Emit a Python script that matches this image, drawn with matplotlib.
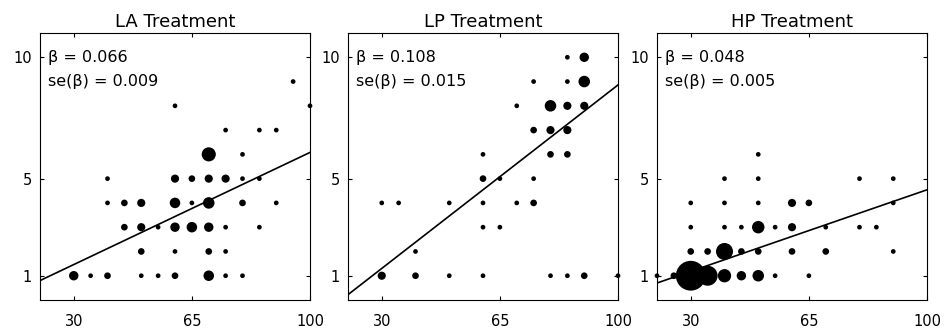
import numpy as np
import matplotlib
matplotlib.use("Agg")
import matplotlib.pyplot as plt

plt.rcParams['font.family'] = ['DejaVu Sans']

titles = ["LA Treatment", "LP Treatment", "HP Treatment"]
betas = ["0.066", "0.108", "0.048"]
ses = ["0.009", "0.015", "0.005"]
slopes = [0.066, 0.108, 0.048]
intercepts = [-0.52, -1.94, -0.26]

# LA: x, y, count
la_x = [95, 60, 100, 75, 85, 90, 70, 80,
        40, 60, 65, 70, 75, 80, 85,
        40, 45, 50, 60, 65, 70, 80, 90,
        45, 50, 55, 60, 65, 70, 75, 85,
        50, 60, 70, 75,
        30, 35, 40, 50, 55, 60, 70, 75, 80]
la_y = [9, 8, 8, 7, 7, 7, 6, 6,
        5, 5, 5, 5, 5, 5, 5,
        4, 4, 4, 4, 4, 4, 4, 4,
        3, 3, 3, 3, 3, 3, 3, 3,
        2, 2, 2, 2,
        1, 1, 1, 1, 1, 1, 1, 1, 1]
la_n = [1, 1, 1, 1, 1, 1, 9, 1,
        1, 3, 2, 3, 3, 1, 1,
        1, 2, 3, 5, 1, 6, 2, 1,
        2, 3, 1, 4, 5, 4, 1, 1,
        2, 1, 2, 1,
        4, 1, 2, 1, 1, 2, 5, 1, 1]

# LP
lp_x = [85, 90,
        75, 85, 90,
        70, 80, 85, 90,
        75, 80, 85,
        60, 80, 85,
        60, 65, 75,
        30, 35, 50, 60, 70, 75,
        60, 65,
        40,
        30, 40, 50, 60, 80, 85, 90, 100]
lp_y = [10, 10,
        9, 9, 9,
        8, 8, 8, 8,
        7, 7, 7,
        6, 6, 6,
        5, 5, 5,
        4, 4, 4, 4, 4, 4,
        3, 3,
        2,
        1, 1, 1, 1, 1, 1, 1, 1]
lp_n = [1, 4,
        1, 1, 6,
        1, 6, 3, 3,
        2, 3, 3,
        1, 2, 2,
        2, 1, 1,
        1, 1, 1, 1, 1, 2,
        1, 1,
        1,
        3, 2, 1, 1, 1, 1, 2, 1]

# HP
hp_x = [50,
        40, 50, 80, 90,
        30, 40, 50, 60, 65, 90,
        30, 40, 45, 50, 55, 60, 70, 80, 85,
        30, 35, 40, 45, 50, 60, 70, 90,
        20, 25, 30, 35, 40, 45, 50, 55, 65]
hp_y = [6,
        5, 5, 5, 5,
        4, 4, 4, 4, 4, 4,
        3, 3, 3, 3, 3, 3, 3, 3, 3,
        2, 2, 2, 2, 2, 2, 2, 2,
        1, 1, 1, 1, 1, 1, 1, 1, 1]
hp_n = [1,
        1, 1, 1, 1,
        1, 1, 1, 3, 2, 1,
        1, 1, 1, 7, 1, 3, 1, 1, 1,
        2, 2, 13, 2, 2, 2, 2, 1,
        1, 2, 40, 18, 8, 4, 6, 1, 1]

xs = [la_x, lp_x, hp_x]
ys = [la_y, lp_y, hp_y]
ns = [la_n, lp_n, hp_n]

fig = plt.figure(figsize=(9.48, 3.33), dpi=100)
lefts = [40, 348, 657]
for i in range(3):
    ax = fig.add_axes([lefts[i] / 948, 33 / 333, 270 / 948, 267 / 333])
    ax.scatter(xs[i], ys[i], s=np.array(ns[i]) * 11.5, c='black',
               linewidths=0, clip_on=False, zorder=3)
    xx = np.array([20, 100])
    ax.plot(xx, intercepts[i] + slopes[i] * xx, color='black', lw=1.2, zorder=2)
    ax.set_xlim(20, 100)
    ax.set_ylim(0, 11)
    ax.set_xticks([30, 65, 100])
    ax.set_yticks([1, 5, 10])
    ax.tick_params(direction='in', length=3, width=0.8, top=True, right=True,
                   labelsize=10.5)
    ax.tick_params(axis='x', pad=10)
    ax.tick_params(axis='y', pad=6)
    for sp in ax.spines.values():
        sp.set_linewidth(0.8)
    ax.set_title(titles[i], fontsize=13, pad=4)
    ax.text(0.03, 0.91, "β = " + betas[i], transform=ax.transAxes,
            fontsize=11.5, va='center', ha='left')
    ax.text(0.03, 0.817, "se(β) = " + ses[i], transform=ax.transAxes,
            fontsize=11.5, va='center', ha='left')

fig.savefig("out.png", dpi=100)
